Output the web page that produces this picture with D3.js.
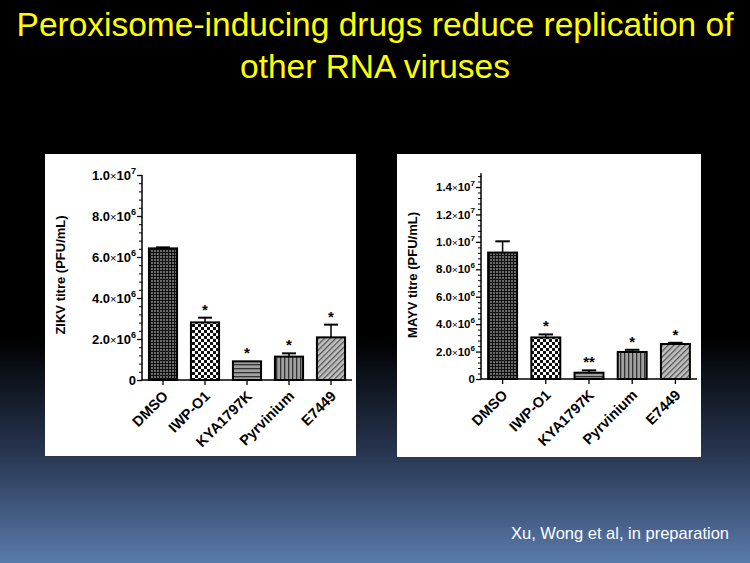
<!DOCTYPE html>
<html><head><meta charset="utf-8">
<script src="https://cdn.jsdelivr.net/npm/d3@7/dist/d3.min.js"></script>
<style>html,body{margin:0;padding:0;background:#000;}svg{display:block;}</style>
</head><body>
<script>
const categories = ["DMSO","IWP-O1","KYA1797K","Pyrvinium","E7449"];
const zikvMean = [6.42e6, 2.81e6, 0.91e6, 1.14e6, 2.08e6];
const zikvErr  = [0.05e6, 0.23e6, 0.0, 0.16e6, 0.62e6];
const zikvSig  = ["", "*", "*", "*", "*"];
const mayvMean = [9.22e6, 3.03e6, 0.46e6, 1.97e6, 2.55e6];
const mayvErr  = [0.82e6, 0.22e6, 0.17e6, 0.16e6, 0.09e6];
const mayvSig  = ["", "*", "**", "*", "*"];
const zikvTicks = [0, 2e6, 4e6, 6e6, 8e6, 1e7];
const mayvTicks = [0, 2e6, 4e6, 6e6, 8e6, 1e7, 1.2e7, 1.4e7];
const titleLines = ["Peroxisome-inducing drugs reduce replication of", "other RNA viruses"];
const footer = "Xu, Wong et al, in preparation";

const W = 750, H = 563;
const FONT = "Liberation Sans, Arial, sans-serif";
const svg = d3.select("body").append("svg").attr("width", W).attr("height", H);
const defs = svg.append("defs");

const grad = defs.append("linearGradient").attr("id","bg").attr("x1",0).attr("y1",0).attr("x2",0).attr("y2",1);
grad.append("stop").attr("offset","0").attr("stop-color","#000");
grad.append("stop").attr("offset","0.6").attr("stop-color","#000");
grad.append("stop").attr("offset","0.8").attr("stop-color","#26344e");
grad.append("stop").attr("offset","1").attr("stop-color","#5a7aab");
svg.append("rect").attr("width",W).attr("height",H).attr("fill","url(#bg)");

function pat(id, w, h, build){
  const p = defs.append("pattern").attr("id",id).attr("patternUnits","userSpaceOnUse").attr("width",w).attr("height",h);
  build(p);
}
pat("p0",3,3,p=>{ p.append("rect").attr("width",3).attr("height",3).attr("fill","#6a6a6a");
  p.append("rect").attr("width",3).attr("height",1).attr("fill","#111");
  p.append("rect").attr("width",1).attr("height",3).attr("fill","#111"); });
pat("p1",6,6,p=>{ p.append("rect").attr("width",6).attr("height",6).attr("fill","#fff");
  p.append("rect").attr("width",3).attr("height",3).attr("fill","#111");
  p.append("rect").attr("x",3).attr("y",3).attr("width",3).attr("height",3).attr("fill","#111"); });
pat("p2",4,4,p=>{ p.append("rect").attr("width",4).attr("height",4).attr("fill","#a0a0a0");
  p.append("rect").attr("width",4).attr("height",1.3).attr("fill","#333"); });
pat("p3",4,4,p=>{ p.append("rect").attr("width",4).attr("height",4).attr("fill","#a0a0a0");
  p.append("rect").attr("width",1.3).attr("height",4).attr("fill","#333"); });
pat("p4",4,4,p=>{ p.attr("patternTransform","rotate(45)");
  p.append("rect").attr("width",4).attr("height",4).attr("fill","#c0c0c0");
  p.append("rect").attr("width",1.3).attr("height",4).attr("fill","#555"); });
const fills = ["url(#p0)","url(#p1)","url(#p2)","url(#p3)","url(#p4)"];

svg.append("g").selectAll("text").data(titleLines).join("text")
  .attr("x", W/2).attr("y",(d,i)=>36+i*42).attr("text-anchor","middle")
  .attr("font-family",FONT).attr("font-size",33.5)
  .attr("fill","#ffff00").text(d=>d);

svg.append("text").attr("x",729).attr("y",539).attr("text-anchor","end")
  .attr("font-family",FONT).attr("font-size",16.5)
  .attr("fill","#fff").text(footer);

function fmtTick(sel, v, fs){
  if (v === 0) { sel.text("0"); return; }
  const e = Math.floor(Math.log10(v));
  const m = (v/Math.pow(10,e)).toFixed(1);
  sel.append("tspan").text(m);
  sel.append("tspan").attr("font-weight","normal").attr("font-size",fs*0.85).text("\u00d7");
  sel.append("tspan").text("10");
  sel.append("tspan").attr("font-size",fs*0.7).attr("dy",-fs*0.45).text(e);
}

function chart(o){
  const g = svg.append("g");
  g.append("rect").attr("x",o.px).attr("y",o.py).attr("width",o.pw).attr("height",o.ph).attr("fill","#fff");
  const x = d3.scaleBand().domain(categories).range([o.x0,o.x1]).paddingInner(0.33).paddingOuter(0.165);
  const y = d3.scaleLinear().domain([0,o.ymax]).range([o.y0,o.yTop]);
  g.selectAll(".bar").data(categories).join("rect")
    .attr("x",d=>x(d)).attr("width",x.bandwidth())
    .attr("y",(d,i)=>y(o.mean[i])).attr("height",(d,i)=>y(0)-y(o.mean[i]))
    .attr("fill",(d,i)=>fills[i]).attr("stroke","#000").attr("stroke-width",2);
  const cap = x.bandwidth()*0.5;
  categories.forEach((c,i)=>{
    if (o.err[i] <= 0) return;
    const cx = x(c)+x.bandwidth()/2;
    g.append("line").attr("x1",cx).attr("x2",cx).attr("y1",y(o.mean[i])).attr("y2",y(o.mean[i]+o.err[i])).attr("stroke","#000").attr("stroke-width",1.5);
    g.append("line").attr("x1",cx-cap/2).attr("x2",cx+cap/2).attr("y1",y(o.mean[i]+o.err[i])).attr("y2",y(o.mean[i]+o.err[i])).attr("stroke","#000").attr("stroke-width",2);
  });
  g.selectAll(".sig").data(categories).join("text")
    .attr("x",d=>x(d)+x.bandwidth()/2).attr("y",(d,i)=>y(o.mean[i]+o.err[i])-3)
    .attr("text-anchor","middle").attr("font-family",FONT)
    .attr("font-weight","bold").attr("font-size",o.sigfs).attr("fill","#000")
    .text((d,i)=>o.sig[i]);
  const ya = g.append("g").attr("transform",`translate(${o.x0},0)`)
    .call(d3.axisLeft(y).tickValues(o.ticks).tickSize(5).tickFormat(""));
  ya.select(".domain").attr("stroke-width",1.5).attr("d",`M0,${o.y0}V${o.yTop}`);
  ya.selectAll(".tick line").attr("stroke-width",1.3);
  const minor = d3.range(0, o.ymax+1, 4e5).filter(v=>!o.ticks.includes(Math.round(v)) && v <= o.ymax);
  g.append("g").attr("transform",`translate(${o.x0},0)`)
    .call(d3.axisLeft(y).tickValues(minor).tickSize(3).tickFormat(""))
    .call(s=>s.select(".domain").remove())
    .selectAll(".tick line").attr("stroke-width",1);
  const tl = g.append("g").selectAll("text").data(o.ticks).join("text")
    .attr("x",o.x0-6).attr("y",d=>y(d)+o.tfs*0.36).attr("text-anchor","end")
    .attr("font-family",FONT).attr("font-weight","bold")
    .attr("font-size",o.tfs).attr("fill","#000");
  tl.each(function(d){ fmtTick(d3.select(this), d, o.tfs); });
  const xa = g.append("g").attr("transform",`translate(0,${o.y0})`)
    .call(d3.axisBottom(x).tickSize(5).tickSizeOuter(0).tickFormat(""));
  xa.select(".domain").attr("stroke-width",1.5).attr("d",`M${o.x0},0H${o.x1}`);
  xa.selectAll(".tick line").attr("stroke-width",1.3);
  g.selectAll(".xl").data(categories).join("text")
    .attr("transform",d=>`translate(${x(d)+x.bandwidth()/2+6},${o.y0+17}) rotate(-45)`)
    .attr("text-anchor","end").attr("font-family",FONT)
    .attr("font-weight","bold").attr("font-size",o.xfs).attr("fill","#000").text(d=>d);
  g.append("text").attr("transform",`translate(${o.titleX},${o.titleY}) rotate(-90)`)
    .attr("text-anchor","middle").attr("font-family",FONT)
    .attr("font-weight","bold").attr("font-size",o.afs).attr("fill","#000").text(o.title);
}

chart({px:45,py:154,pw:311,ph:302,x0:142,x1:352,y0:380,yTop:175,ymax:1e7,
  mean:zikvMean,err:zikvErr,sig:zikvSig,ticks:zikvTicks,tfs:13,xfs:14.5,afs:13,sigfs:15,
  title:"ZIKV titre (PFU/mL)",titleX:65,titleY:275});
chart({px:397,py:154,pw:304,ph:303,x0:481,x1:697,y0:379,yTop:379-205.7,ymax:1.5e7,
  mean:mayvMean,err:mayvErr,sig:mayvSig,ticks:mayvTicks,tfs:11.5,xfs:14.5,afs:13,sigfs:15,
  title:"MAYV titre (PFU/mL)",titleX:417,titleY:275});
</script>
</body></html>
